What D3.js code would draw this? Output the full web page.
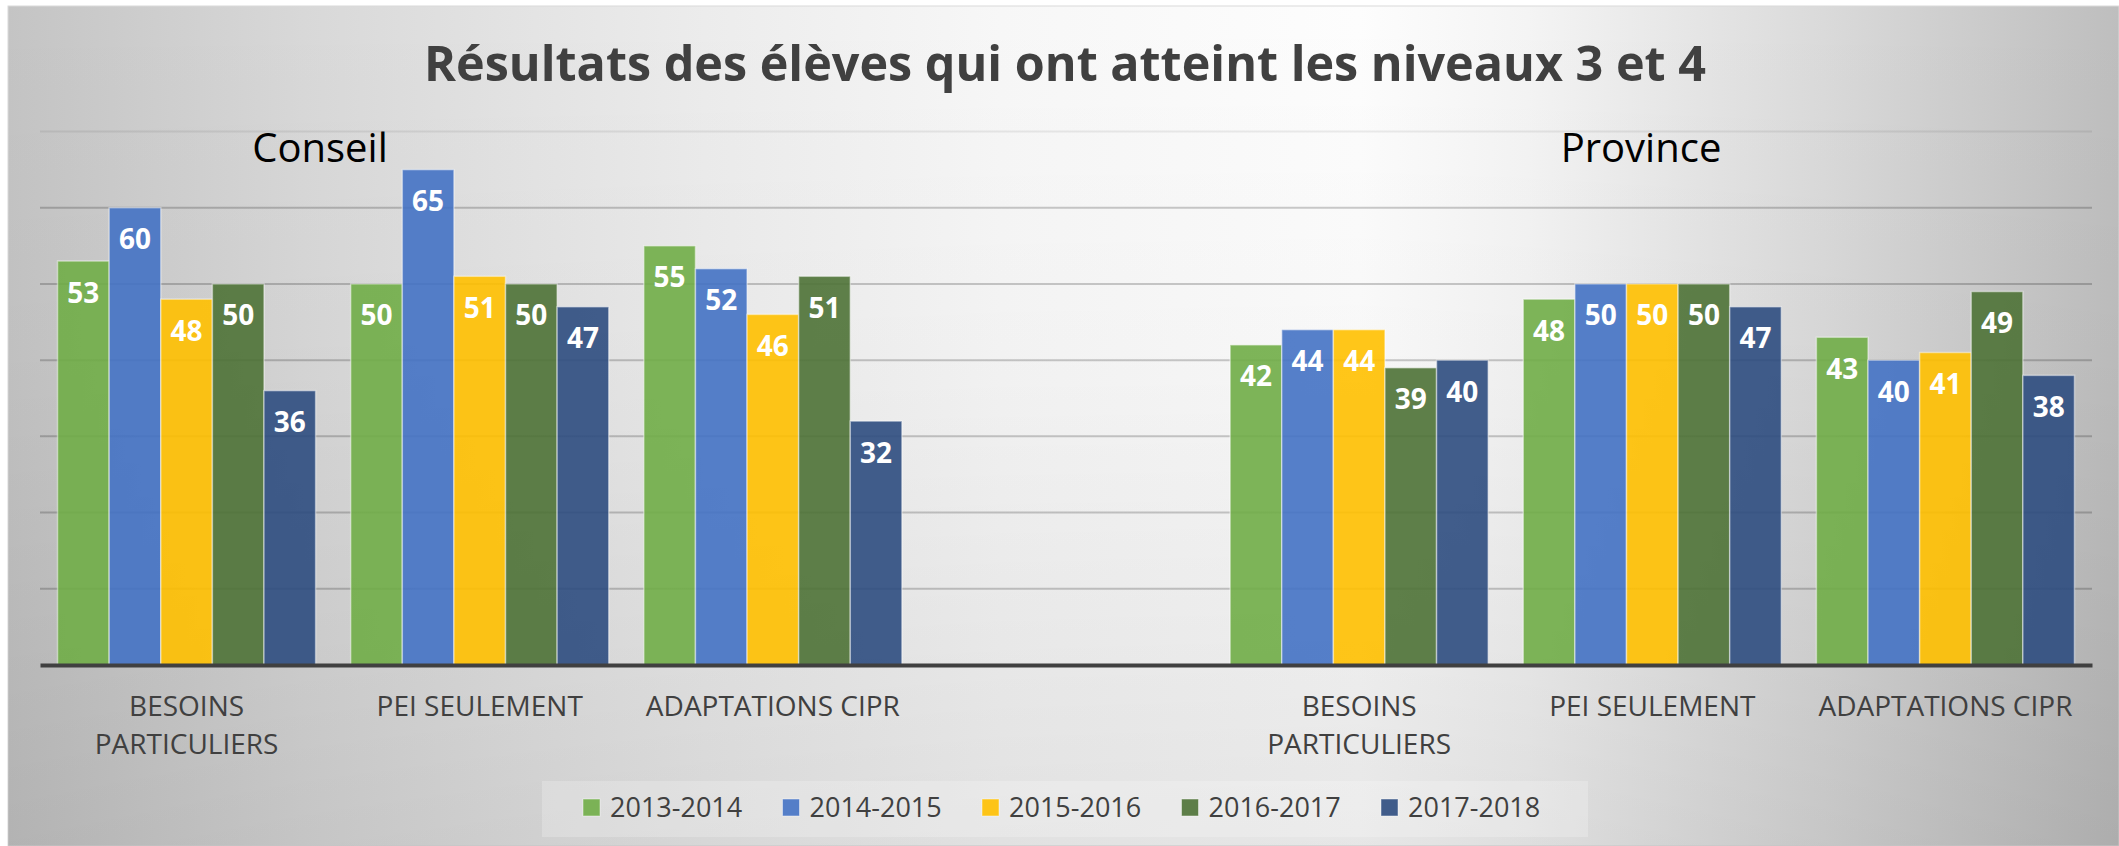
<!DOCTYPE html>
<html>
<head>
<meta charset="utf-8">
<script src="https://cdn.jsdelivr.net/npm/d3@7"></script>
<style>
  body { margin: 0; background: #fff; }
  svg { display: block; font-family: 'Open Sans', sans-serif; }
</style>
</head>
<body>
<svg width="2119" height="846"></svg>
<script>
const chartTitle = 'Résultats des élèves qui ont atteint les niveaux 3 et 4';
const groupTitles = ['Conseil', 'Province'];
const categories = [
  'BESOINS PARTICULIERS', 'PEI SEULEMENT', 'ADAPTATIONS CIPR', '',
  'BESOINS PARTICULIERS', 'PEI SEULEMENT', 'ADAPTATIONS CIPR',
];
const seasons = ['2013-2014', '2014-2015', '2015-2016', '2016-2017', '2017-2018'];
const values20132014 = [53, 50, 55, null, 42, 48, 43];
const values20142015 = [60, 65, 52, null, 44, 50, 40];
const values20152016 = [48, 51, 46, null, 44, 50, 41];
const values20162017 = [50, 50, 51, null, 39, 50, 49];
const values20172018 = [36, 47, 32, null, 40, 47, 38];
const gridTicks = [10, 20, 30, 40, 50, 60, 70];

const seriesValues = [values20132014, values20142015, values20152016, values20162017, values20172018];
const colors = ['#70ad47', '#4472c4', '#ffc000', '#4e7236', '#2e4c80'];

const width = 2119;
const height = 846;
const plot = { left: 40, right: 2092, top: 131.5, bottom: 665 };

const bars = [];
seriesValues.forEach((vals, s) => {
  vals.forEach((v, c) => {
    if (v !== null) bars.push({ season: seasons[s], category: c, value: v, color: colors[s] });
  });
});

const xScale = d3.scaleBand(d3.range(categories.length), [plot.left, plot.right]);
const seasonScale = d3.scaleBand(seasons, [0, xScale.bandwidth()]).paddingOuter(0.34);
const yScale = d3.scaleLinear([0, 70], [plot.bottom, plot.top]);
const colorScale = d3.scaleOrdinal(seasons, colors);

const svg = d3.select('svg');
const defs = svg.append('defs');

// background: grey at the sides, white towards the upper middle
defs.append('linearGradient')
  .attr('id', 'bg-h')
  .attr('x1', 0).attr('x2', 1).attr('y1', 0).attr('y2', 0)
  .selectAll('stop')
    .data([[0, '#c4c4c4'], [0.14, '#d8d8d8'], [0.24, '#e3e3e3'], [0.33, '#ececec'],
      [0.47, '#f7f7f7'], [0.64, '#fdfdfd'], [0.72, '#f4f4f4'], [0.86, '#dadada'], [1, '#bebebe']])
  .join('stop')
    .attr('offset', (d) => d[0])
    .attr('stop-color', (d) => d[1]);

defs.append('linearGradient')
  .attr('id', 'bg-v')
  .attr('x1', 0).attr('x2', 0).attr('y1', 0).attr('y2', 1)
  .selectAll('stop')
    .data([[0, 0], [0.4, 0.02], [1, 0.09]])
  .join('stop')
    .attr('offset', (d) => d[0])
    .attr('stop-color', '#000')
    .attr('stop-opacity', (d) => d[1]);

svg.append('rect')
  .attr('x', 8).attr('y', 6)
  .attr('width', width - 8).attr('height', height - 6)
  .attr('fill', 'url(#bg-h)')
  .attr('stroke', '#d9d9d9');

svg.append('rect')
  .attr('x', 8).attr('y', 6)
  .attr('width', width - 8).attr('height', height - 6)
  .attr('fill', 'url(#bg-v)');

function draw() {
  svg.append('text')
    .text(chartTitle)
    .attr('x', 1065)
    .attr('y', 81)
    .attr('text-anchor', 'middle')
    .attr('font-weight', 'bold')
    .attr('font-size', 48.5)
    .attr('fill', '#404040');

  svg.selectAll('.group-title')
    .data(groupTitles)
    .join('text')
      .attr('class', 'group-title')
      .text((d) => d)
      .attr('x', (d, i) => (i === 0 ? 320 : 1641))
      .attr('y', 161.7)
      .attr('text-anchor', 'middle')
      .attr('font-size', 40)
      .attr('fill', '#000');

  svg.append('g')
    .selectAll('line')
    .data(gridTicks)
    .join('line')
      .attr('x1', plot.left)
      .attr('x2', plot.right)
      .attr('y1', (d) => yScale(d))
      .attr('y2', (d) => yScale(d))
      .attr('stroke', '#000')
      .attr('stroke-opacity', (d) => (d === 70 ? 0.07 : 0.2))
      .attr('stroke-width', 2);

  svg.append('g')
    .selectAll('rect')
    .data(bars)
    .join('rect')
      .attr('x', (d) => xScale(d.category) + seasonScale(d.season))
      .attr('y', (d) => yScale(d.value))
      .attr('width', seasonScale.bandwidth())
      .attr('height', (d) => yScale(0) - yScale(d.value))
      .attr('fill', (d) => d.color)
      .attr('fill-opacity', 0.9)
      .attr('stroke', '#fff')
      .attr('stroke-opacity', 0.45)
      .attr('stroke-width', 1.5);

  svg.append('g')
    .selectAll('text')
    .data(bars)
    .join('text')
      .text((d) => d.value)
      .attr('x', (d) => xScale(d.category) + seasonScale(d.season) + seasonScale.bandwidth() / 2)
      .attr('y', (d) => yScale(d.value) + 41.5)
      .attr('text-anchor', 'middle')
      .attr('font-weight', 'bold')
      .attr('font-size', 28)
      .attr('fill', '#fff');

  const xAxis = d3.axisBottom(xScale)
    .tickSize(0)
    .tickFormat((i) => categories[i]);

  const axis = svg.append('g')
    .attr('transform', `translate(0, ${plot.bottom})`)
    .call(xAxis);

  axis.select('.domain')
    .attr('stroke', '#404040')
    .attr('stroke-width', 4);

  axis.selectAll('text')
    .attr('font-family', "'Open Sans', sans-serif")
    .attr('font-size', 28)
    .attr('fill', '#404040')
    .each(function (i) {
      const label = d3.select(this);
      const words = categories[i].split(' ');
      label.text(null).attr('dy', null).attr('y', null);
      let lines = [categories[i]];
      const probe = label.append('tspan').text(categories[i]);
      if (probe.node().getComputedTextLength() > xScale.bandwidth() * 0.95 && words.length > 1) {
        lines = words;
      }
      probe.remove();
      lines.forEach((line, k) => {
        label.append('tspan')
          .attr('x', 0)
          .attr('y', 50.7 + k * 38.3)
          .text(line);
      });
    });

  const legend = svg.append('g');
  legend.append('rect')
    .attr('x', 542).attr('y', 781)
    .attr('width', 1046).attr('height', 56)
    .attr('fill', '#fff')
    .attr('fill-opacity', 0.22);

  const items = legend.selectAll('.item')
    .data(seasons)
    .join('g')
      .attr('class', 'item')
      .attr('transform', (d, i) => `translate(${583 + i * 199.5}, 799)`);

  items.append('rect')
    .attr('width', 17)
    .attr('height', 17)
    .attr('fill', (d) => colorScale(d))
    .attr('fill-opacity', 0.9)
    .attr('stroke', '#fff')
    .attr('stroke-opacity', 0.45);

  items.append('text')
    .text((d) => d)
    .attr('x', 27)
    .attr('y', 17.7)
    .attr('font-size', 27)
    .attr('fill', '#404040');
}

document.fonts.ready.then(draw);
</script>
</body>
</html>
